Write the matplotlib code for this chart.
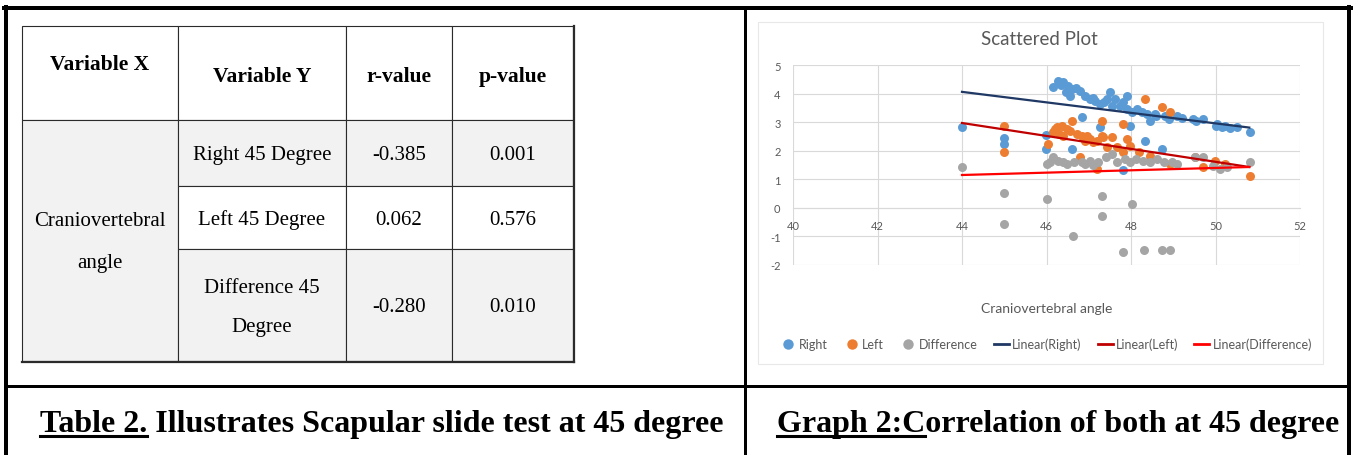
import matplotlib
matplotlib.use("Agg")
import matplotlib.pyplot as plt
from matplotlib.patches import Rectangle
from matplotlib.lines import Line2D

plt.rcParams["axes.unicode_minus"] = False

# ---- table data ----
header = ["Variable X", "Variable Y", "r-value", "p-value"]
var_x = ["Craniovertebral", "angle"]
var_y = [["Right 45 Degree"], ["Left 45 Degree"], ["Difference 45", "Degree"]]
r_values = ["-0.385", "0.062", "-0.280"]
p_values = ["0.001", "0.576", "0.010"]

cap_table = ("Table 2.", " Illustrates Scapular slide test at 45 degree")
cap_graph = ("Graph 2:C", "orrelation of both at 45 degree")

# ---- scatter data ----
right_x = [44.0, 45.0, 45.0, 45.98, 45.98, 46.15, 46.27, 46.35, 46.4, 46.45, 46.5, 46.55, 46.6,
           46.7, 46.8, 46.9, 47.03, 47.1, 47.15, 47.27, 47.35, 47.43, 47.5, 47.55, 47.62, 47.74,
           47.8, 47.9, 47.9, 48.02, 48.14, 48.26, 48.38, 48.45, 48.57, 48.6, 48.8, 48.9, 49.09,
           49.2, 49.47, 49.55, 49.7, 50.0, 50.03, 50.15, 50.22, 50.35, 50.5, 50.82,
           46.85, 47.27, 46.6, 48.33, 47.98, 47.8, 48.73]
right_y = [2.82, 2.45, 2.25, 2.55, 2.05, 4.23, 4.44, 4.3, 4.4, 4.05, 4.27, 3.92, 4.16,
           4.2, 4.1, 3.92, 3.81, 3.85, 3.74, 3.64, 3.7, 3.81, 4.05, 3.57, 3.81, 3.57,
           3.7, 3.92, 3.46, 3.36, 3.46, 3.36, 3.29, 3.04, 3.29, 3.2, 3.22, 3.1, 3.22,
           3.15, 3.11, 3.05, 3.11, 2.85, 2.94, 2.83, 2.87, 2.8, 2.83, 2.66,
           3.18, 2.83, 2.06, 2.34, 2.87, 1.32, 2.06]

left_x = [45.0, 45.0, 46.03, 46.15, 46.2, 46.25, 46.3, 46.37, 46.4, 46.48, 46.55, 46.6, 46.72,
          46.84, 46.91, 46.96, 47.03, 47.1, 47.2, 47.31, 47.31, 47.34, 47.43, 47.55, 47.67,
          47.8, 47.8, 47.9, 47.98, 48.2, 48.33, 48.45, 48.73, 48.92, 48.92, 46.79, 47.2,
          49.51, 49.7, 49.99, 50.22, 50.82]
left_y = [2.85, 1.95, 2.24, 2.66, 2.75, 2.83, 2.6, 2.87, 2.52, 2.76, 2.7, 3.04, 2.59,
          2.52, 2.34, 2.52, 2.41, 2.31, 2.34, 3.04, 2.52, 2.48, 2.13, 2.48, 2.13,
          2.94, 1.96, 2.41, 2.17, 1.96, 3.81, 1.82, 3.53, 3.36, 1.54, 1.78, 1.36,
          1.78, 1.43, 1.64, 1.54, 1.12]

diff_x = [44.0, 45.0, 45.0, 46.01, 47.31, 47.31, 48.02, 46.63, 47.8, 48.3, 48.73, 48.92,
          46.0, 46.08, 46.15, 46.28, 46.4, 46.48, 46.64, 46.83, 46.9, 47.03, 47.1, 47.23,
          47.42, 47.54, 47.66, 47.86, 47.98, 48.13, 48.29, 48.45, 48.61, 48.77, 48.96,
          49.08, 49.51, 49.71, 49.95, 50.11, 50.27, 50.82]
diff_y = [1.43, 0.52, -0.56, 0.31, 0.42, -0.28, 0.14, -0.98, -1.54, -1.47, -1.47, -1.47,
          1.54, 1.6, 1.78, 1.64, 1.62, 1.54, 1.6, 1.6, 1.55, 1.65, 1.5, 1.6,
          1.77, 1.89, 1.6, 1.71, 1.6, 1.71, 1.65, 1.6, 1.71, 1.6, 1.6,
          1.54, 1.77, 1.77, 1.48, 1.36, 1.42, 1.6]

# trend line end points (as drawn by Excel)
trend_x = [44.0, 50.8]
trend_right = [4.06, 2.81]
trend_left = [2.97, 1.43]
trend_diff = [1.15, 1.43]

c_right, c_left, c_diff = "#5B9BD5", "#ED7D31", "#A5A5A5"
c_tr, c_tl, c_td = "#1F3864", "#C00000", "#FF0000"
grey_txt = "#595959"

W, H = 1356, 456
fig = plt.figure(figsize=(W / 100, H / 100), dpi=100)
fig.patch.set_facecolor("white")

# background axes in pixel coordinates (y down)
bg = fig.add_axes([0, 0, 1, 1])
bg.set_xlim(0, W)
bg.set_ylim(H, 0)
bg.axis("off")

# outer frame and dividers
px = 0.72
bg.plot([6, 6], [8, H], color="black", lw=4 * px)
bg.plot([1349, 1349], [8, H], color="black", lw=4 * px)
bg.plot([4, 1351], [9, 9], color="black", lw=4 * px)
bg.plot([745, 745], [8, H], color="black", lw=3 * px)
bg.plot([6, 1349], [387, 387], color="black", lw=3 * px)

# ---- table ----
cols = [22, 178, 346, 452, 573]
rows = [27, 121, 187, 250, 362]
shade = "#F2F2F2"
edge = "#2b2b2b"
tfont = "Liberation Serif"

for i in range(4):
    bg.add_patch(Rectangle((cols[i], rows[0]), cols[i + 1] - cols[i], rows[1] - rows[0],
                           facecolor="white", edgecolor=edge, lw=0.8))
bg.add_patch(Rectangle((cols[0], rows[1]), cols[1] - cols[0], rows[4] - rows[1],
                       facecolor=shade, edgecolor=edge, lw=0.8))
for r in range(3):
    fc = shade if r != 1 else "white"
    for i in range(1, 4):
        bg.add_patch(Rectangle((cols[i], rows[r + 1]), cols[i + 1] - cols[i], rows[r + 2] - rows[r + 1],
                               facecolor=fc, edgecolor=edge, lw=0.8))
# shadow edge on right / bottom
bg.plot([cols[4] + 1, cols[4] + 1], [rows[0], rows[4] + 1], color=edge, lw=1.6)
bg.plot([cols[0], cols[4] + 1], [rows[4] + 1, rows[4] + 1], color=edge, lw=1.6)

hdr_y = [65, 77, 77, 77]
for i, t in enumerate(header):
    bg.text((cols[i] + cols[i + 1]) / 2, hdr_y[i], t, ha="center", va="center",
            fontsize=15.5, fontweight="bold", family=tfont)

bg.text((cols[0] + cols[1]) / 2, 222, var_x[0], ha="center", va="center", fontsize=15, family=tfont)
bg.text((cols[0] + cols[1]) / 2, 264, var_x[1], ha="center", va="center", fontsize=15, family=tfont)

for r in range(3):
    yc = (rows[r + 1] + rows[r + 2]) / 2 + 2
    lines = var_y[r]
    if len(lines) == 1:
        bg.text((cols[1] + cols[2]) / 2, yc, lines[0], ha="center", va="center", fontsize=15, family=tfont)
    else:
        bg.text((cols[1] + cols[2]) / 2, yc - 19, lines[0], ha="center", va="center", fontsize=15, family=tfont)
        bg.text((cols[1] + cols[2]) / 2, yc + 20, lines[1], ha="center", va="center", fontsize=15, family=tfont)
    bg.text((cols[2] + cols[3]) / 2, yc, r_values[r], ha="center", va="center", fontsize=15, family=tfont)
    bg.text((cols[3] + cols[4]) / 2, yc, p_values[r], ha="center", va="center", fontsize=15, family=tfont)

# ---- captions with underlined prefix ----
fig.canvas.draw()
renderer = fig.canvas.get_renderer()


def caption(x, y, parts):
    bg.text(x, y, parts[0] + parts[1], ha="left", va="baseline", fontsize=23,
            fontweight="bold", family=tfont)
    tmp = bg.text(x, y, parts[0], ha="left", va="baseline", fontsize=23,
                  fontweight="bold", family=tfont, alpha=0)
    w = tmp.get_window_extent(renderer).width
    tmp.remove()
    bg.plot([x, x + w], [y + 5, y + 5], color="black", lw=2.2)


caption(40, 432, cap_table)
caption(777, 432, cap_graph)

# ---- Excel-like chart area ----
bg.add_patch(Rectangle((758, 23), 1323 - 758, 365 - 23, facecolor="white", edgecolor="#E8E8E8", lw=0.8))

ax = fig.add_axes([793 / W, 1 - 266 / H, 507 / W, 200 / H])
ax.set_xlim(40, 52)
ax.set_ylim(-2, 5)
ax.set_xticks(range(40, 53, 2))
ax.set_yticks(range(-2, 6))
ax.grid(True, color="#D9D9D9", lw=0.8)
ax.set_axisbelow(True)
for s in ["top", "right", "left"]:
    ax.spines[s].set_visible(False)
ax.spines["bottom"].set_position(("data", 0))
ax.spines["bottom"].set_color("#D9D9D9")
ax.tick_params(axis="both", length=0, labelsize=8, labelcolor=grey_txt)
ax.tick_params(axis="x", pad=9)
ax.tick_params(axis="y", pad=9)
for lab in ax.get_xticklabels() + ax.get_yticklabels():
    lab.set_family("Lato")

ax.scatter(right_x, right_y, s=42, color=c_right, zorder=3, linewidths=0)
ax.scatter(left_x, left_y, s=42, color=c_left, zorder=3, linewidths=0)
ax.scatter(diff_x, diff_y, s=42, color=c_diff, zorder=3, linewidths=0)
ax.plot(trend_x, trend_right, color=c_tr, lw=1.6, zorder=4)
ax.plot(trend_x, trend_left, color=c_tl, lw=1.6, zorder=4)
ax.plot(trend_x, trend_diff, color=c_td, lw=1.6, zorder=4)

ax.set_title("Scattered Plot", fontsize=13.5, color=grey_txt, family="Lato", pad=15, x=0.486)
ax.set_xlabel("Craniovertebral angle", fontsize=10, color=grey_txt, family="Lato")
ax.xaxis.label.set_va("center")
ax.xaxis.set_label_coords(0.5, -0.215)

handles = [
    Line2D([], [], marker="o", ls="none", color=c_right, markersize=7.5, markeredgewidth=0),
    Line2D([], [], marker="o", ls="none", color=c_left, markersize=7.5, markeredgewidth=0),
    Line2D([], [], marker="o", ls="none", color=c_diff, markersize=7.5, markeredgewidth=0),
    Line2D([], [], color=c_tr, lw=2),
    Line2D([], [], color=c_tl, lw=2),
    Line2D([], [], color=c_td, lw=2),
]
labels = ["Right", "Left", "Difference", "Linear(Right)", "Linear(Left)", "Linear(Difference)"]
ax.legend(handles, labels, loc="center", bbox_to_anchor=(0.5, -0.395), ncol=6, frameon=False,
          prop={"family": "Lato", "size": 9}, labelcolor=grey_txt, handlelength=1.2,
          handletextpad=0.25, columnspacing=1.3, borderaxespad=0)

fig.savefig("out.png", dpi=100)
